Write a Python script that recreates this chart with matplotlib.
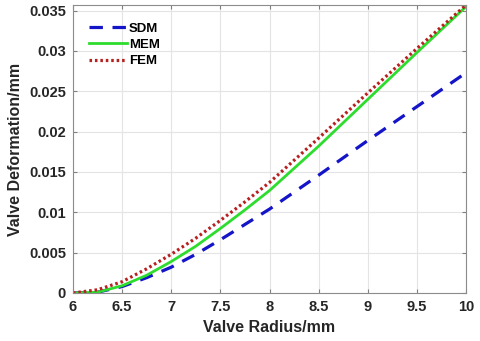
import numpy as np
from matplotlib import pyplot as plt

# values
radius = [6.0, 6.25, 6.5, 6.75, 7.0, 7.25, 7.5, 7.75, 8.0, 8.5, 9.0, 9.5, 10.0]
sdm = [0.0, 0.0001, 0.0008, 0.0019, 0.0032, 0.0048, 0.0066, 0.0085, 0.0104, 0.0146, 0.0189, 0.0231, 0.0273]
mem = [0.0, 0.0001, 0.0009, 0.0022, 0.0039, 0.0058, 0.0080, 0.0103, 0.0127, 0.0182, 0.0240, 0.0298, 0.0355]
fem = [0.0, 0.0004, 0.0014, 0.0030, 0.0048, 0.0068, 0.0090, 0.0113, 0.0137, 0.0192, 0.0248, 0.0303, 0.0357]

xticks = [6, 6.5, 7, 7.5, 8, 8.5, 9, 9.5, 10]
xticklabels = ["6", "6.5", "7", "7.5", "8", "8.5", "9", "9.5", "10"]
yticks = [0, 0.005, 0.01, 0.015, 0.02, 0.025, 0.03, 0.035]
yticklabels = ["0", "0.005", "0.01", "0.015", "0.02", "0.025", "0.03", "0.035"]

plt.rcParams['font.family'] = ['Liberation Sans', 'DejaVu Sans']
plt.rcParams['font.weight'] = 'bold'

fig = plt.figure(figsize=(4.81, 3.41), dpi=100)
ax = fig.add_axes([73/481, 1-293/341, (466-73)/481, (293-5)/341])

ax.plot(radius, sdm, color='#1414c8', lw=2.3, linestyle=(0, (4.2, 3.0)), label="SDM")
ax.plot(radius, mem, color='#2edc2e', lw=2.0, label="MEM")
ax.plot(radius, fem, color='#b82020', lw=2.3, linestyle=(0, (0.8, 0.9)), label="FEM")

ax.set_xlim(6, 10)
ax.set_ylim(0, 0.0357)
ax.set_xticks(xticks)
ax.set_xticklabels(xticklabels)
ax.set_yticks(yticks)
ax.set_yticklabels(yticklabels)

ax.grid(True, color='#e4e4e4', lw=0.8)
ax.set_axisbelow(True)
ax.tick_params(direction='in', top=True, right=True, length=3, color='#808080',
               labelsize=10.5, labelcolor='#262626', pad=5)
for s in ax.spines.values():
    s.set_color('#8c8c8c')
    s.set_linewidth(0.8)

ax.set_xlabel("Valve Radius/mm", fontsize=11.5, fontweight='bold', color='#262626', labelpad=4)
ax.set_ylabel("Valve Deformation/mm", fontsize=11.5, fontweight='bold', color='#262626', labelpad=4)

leg = ax.legend(loc='upper left', frameon=False, fontsize=9.5, handlelength=2.9,
                handletextpad=0.15, labelspacing=0.3, bbox_to_anchor=(0.01, 0.98))

fig.savefig("out.png", dpi=100)
